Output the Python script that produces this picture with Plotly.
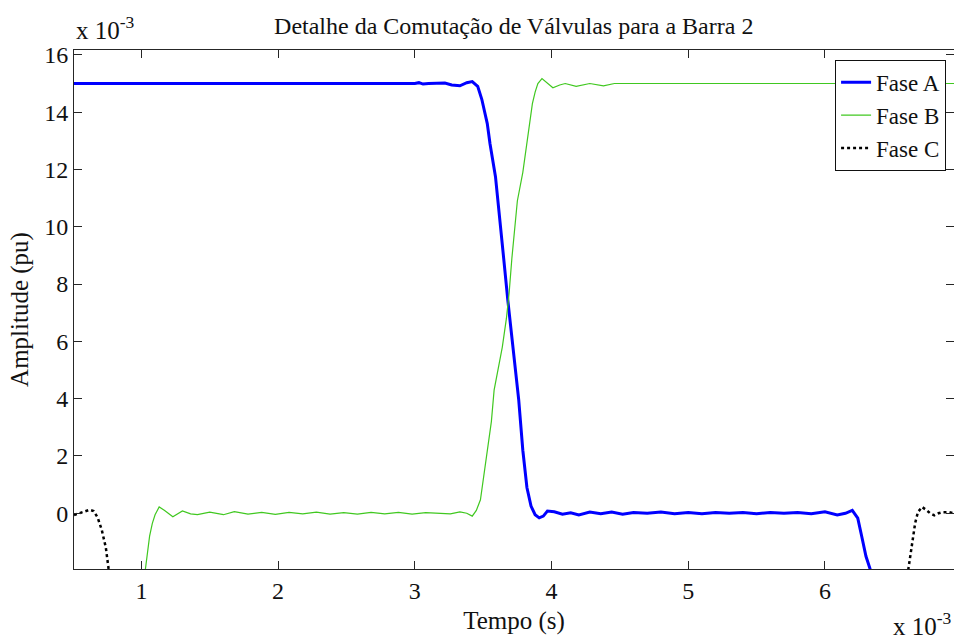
import plotly.graph_objects as go

# Time axis in units of 1e-3 s, amplitude in units of 1e-3 pu
fase_a_t = [0.507, 3.00, 3.03, 3.06, 3.10, 3.16, 3.22, 3.27, 3.33, 3.38, 3.42, 3.46, 3.49, 3.53,
            3.55, 3.59, 3.62, 3.65, 3.68, 3.70, 3.72, 3.74, 3.76, 3.79, 3.82, 3.85, 3.88, 3.91,
            3.94, 3.97, 4.02, 4.08, 4.14, 4.20, 4.28, 4.36, 4.44, 4.52, 4.60, 4.70, 4.80, 4.90,
            5.00, 5.10, 5.20, 5.30, 5.40, 5.50, 5.60, 5.70, 5.80, 5.90, 6.00, 6.09, 6.15, 6.20,
            6.24, 6.27, 6.30, 6.33, 6.36]
fase_a_v = [15.0, 15.0, 15.03, 14.98, 15.0, 15.0, 15.02, 14.95, 14.92, 15.03, 15.07, 14.9, 14.45, 13.6,
            12.9, 11.75, 10.2, 8.9, 7.45, 6.6, 5.7, 4.9, 3.96, 2.2, 0.9, 0.25, -0.05, -0.16,
            -0.1, 0.08, 0.05, -0.03, 0.02, -0.06, 0.04, -0.02, 0.04, -0.03, 0.03, 0.0, 0.04, -0.02,
            0.03, -0.02, 0.03, 0.0, 0.03, -0.02, 0.03, 0.0, 0.03, -0.02, 0.05, -0.06, 0.0, 0.1,
            -0.17, -0.83, -1.5, -1.94, -2.6]

fase_b_t = [1.02, 1.06, 1.08, 1.10, 1.13, 1.17, 1.23, 1.30, 1.36, 1.41, 1.50, 1.60, 1.68, 1.78,
            1.88, 1.98, 2.08, 2.18, 2.28, 2.38, 2.48, 2.58, 2.68, 2.78, 2.88, 2.98, 3.08, 3.18,
            3.26, 3.33, 3.38, 3.42, 3.45, 3.48, 3.51, 3.53, 3.56, 3.58, 3.61, 3.64, 3.67, 3.69,
            3.71, 3.73, 3.75, 3.79, 3.82, 3.84, 3.86, 3.88, 3.90, 3.93, 3.96, 4.01, 4.06, 4.10,
            4.18, 4.28, 4.38, 4.46, 4.55, 6.944]
fase_b_v = [-2.3, -0.8, -0.35, -0.05, 0.22, 0.1, -0.12, 0.08, -0.02, -0.05, 0.04, -0.05, 0.06, -0.03,
            0.03, -0.04, 0.03, -0.02, 0.04, -0.03, 0.02, -0.03, 0.03, -0.02, 0.03, -0.03, 0.02, 0.0,
            -0.02, 0.05, 0.0, -0.1, 0.1, 0.47, 1.5, 2.0, 3.2, 4.3, 5.0, 5.8, 6.8, 7.7,
            8.9, 10.0, 10.9, 11.9, 12.9, 13.7, 14.3, 14.7, 15.0, 15.17, 15.05, 14.85, 14.95, 15.0,
            14.9, 15.0, 14.92, 15.0, 15.0, 15.0]

fase_c_t = [0.507, 0.56, 0.62, 0.65, 0.68, 0.71, 0.74, 0.76, 0.78, None,
            6.59, 6.62, 6.64, 6.66, 6.68, 6.71, 6.74, 6.77, 6.80, 6.83, 6.86, 6.91, 6.944]
fase_c_v = [-0.06, 0.02, 0.12, 0.08, -0.15, -0.58, -1.2, -1.94, -2.6, None,
            -2.6, -1.6, -0.93, -0.34, 0.04, 0.22, 0.12, 0.0, -0.07, 0.0, 0.04, 0.04, 0.0]

x_ticks = [1, 2, 3, 4, 5, 6]
y_ticks = [0, 2, 4, 6, 8, 10, 12, 14, 16]

FONT = "Liberation Serif, Times New Roman, serif"

fig = go.Figure()
fig.add_trace(go.Scatter(x=fase_a_t, y=fase_a_v, mode="lines", name="Fase A",
                         line=dict(color="#0000ff", width=3)))
fig.add_trace(go.Scatter(x=fase_b_t, y=fase_b_v, mode="lines", name="Fase B",
                         line=dict(color="#40c820", width=1.2)))
fig.add_trace(go.Scatter(x=fase_c_t, y=fase_c_v, mode="lines", name="Fase C",
                         line=dict(color="#000000", width=2.5, dash="dot"), connectgaps=False))

axis_common = dict(showgrid=False, zeroline=False, showline=True, linecolor="#262626", linewidth=1,
                   mirror="ticks", ticks="inside", ticklen=8, tickcolor="#262626", automargin=False,
                   tickfont=dict(family=FONT, size=24, color="#111"))

fig.update_layout(
    width=954, height=639,
    margin=dict(l=74, r=0, t=50, b=70, autoexpand=False),
    paper_bgcolor="white", plot_bgcolor="white",
    font=dict(family=FONT, color="#111"),
    title=dict(text="Detalhe da Comutação de Válvulas para a Barra 2", x=0.5385, xanchor="center",
               y=0.96, yanchor="middle", font=dict(family=FONT, size=24, color="#111")),
    xaxis=dict(range=[0.507, 6.944], tickvals=x_ticks,
               title=dict(text="Tempo (s)", font=dict(family=FONT, size=25), standoff=8), **axis_common),
    yaxis=dict(range=[-1.945, 16.17], tickvals=y_ticks,
               title=dict(text="Amplitude (pu)", font=dict(family=FONT, size=25), standoff=8), **axis_common),
    legend=dict(x=0.991, y=0.981, xanchor="right", yanchor="top", bgcolor="white",
                bordercolor="#111", borderwidth=1, font=dict(family=FONT, size=23),
                tracegroupgap=0),
    showlegend=True,
)

fig.add_annotation(text="x 10<sup>-3</sup>", xref="paper", yref="paper", x=0.0, y=1.0,
                   xanchor="left", yanchor="bottom", yshift=4, showarrow=False,
                   font=dict(family=FONT, size=25, color="#111"))
fig.add_annotation(text="x 10<sup>-3</sup>", xref="paper", yref="paper", x=1.0, y=-0.135,
                   xanchor="right", yanchor="bottom", yshift=-3, showarrow=False,
                   font=dict(family=FONT, size=25, color="#111"))

fig.write_html("out.html", config={"displayModeBar": False},
               post_script="document.body.style.margin='0';document.body.style.overflow='hidden';")
